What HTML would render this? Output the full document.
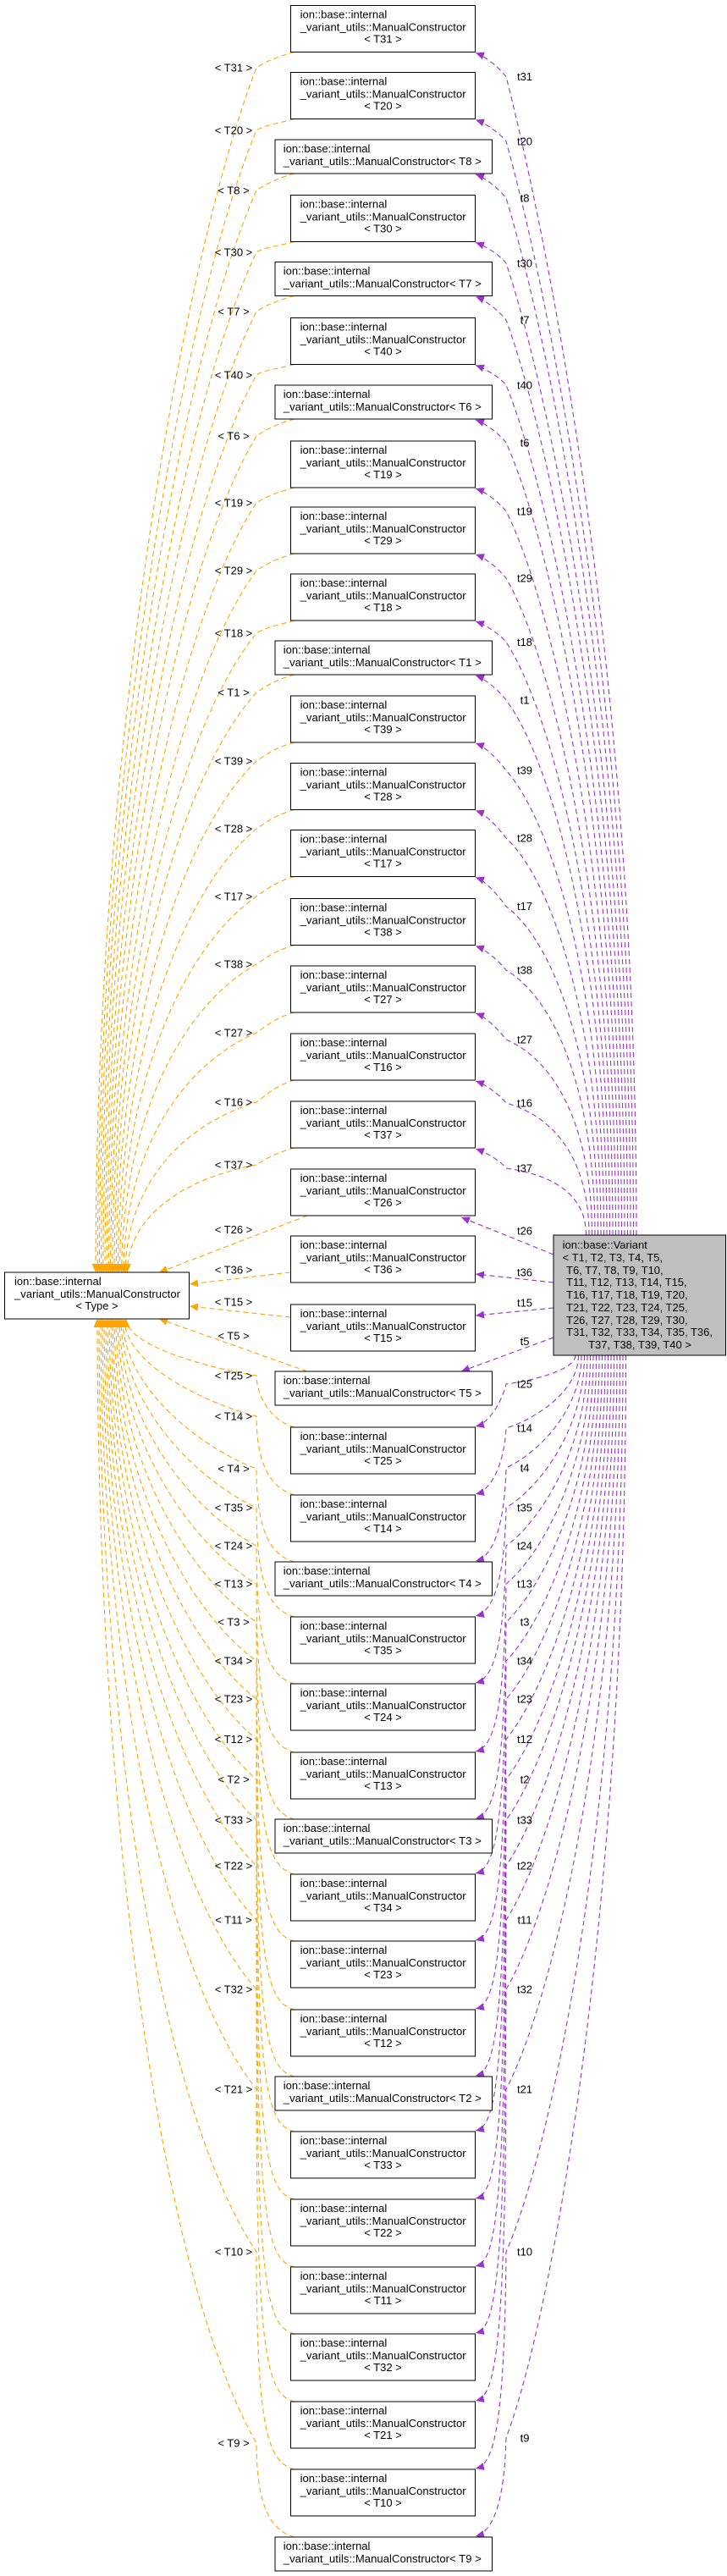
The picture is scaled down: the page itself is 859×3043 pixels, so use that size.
<!DOCTYPE html>
<html><head><meta charset="utf-8"><style>
html,body{margin:0;padding:0;background:#fff}
svg{display:block}
text{font-family:"Liberation Sans",Helvetica,sans-serif;font-size:13px;fill:#000}
.m{text-anchor:middle}
rect.b{fill:#fff;stroke:#000;stroke-width:1}
</style></head><body>
<svg id="s" width="859" height="3043" viewBox="0 0 859 3043" xmlns="http://www.w3.org/2000/svg">
<defs>
<marker id="ao" markerWidth="11" markerHeight="9" refX="10" refY="4.5" orient="auto" markerUnits="userSpaceOnUse"><path d="M0,0 L10,4.5 L0,9 z" fill="#ffa500"/></marker>
<marker id="ap" markerWidth="11" markerHeight="9" refX="10" refY="4.5" orient="auto" markerUnits="userSpaceOnUse"><path d="M0,0 L10,4.5 L0,9 z" fill="#9a32cd"/></marker>
</defs>
<g id="edges"></g>

<rect class="b" x="5.5" y="1503" width="218" height="55"/>
<text x="17" y="1518">ion::base::internal</text>
<text x="17" y="1533" textLength="196">_variant_utils::ManualConstructor</text>
<text x="114.5" y="1547" class="m">&lt; Type &gt;</text>

<rect x="654" y="1459" width="203.5" height="142" fill="#bfbfbf" stroke="#000"/>
<text x="664.6" y="1475">ion::base::Variant</text>
<text x="664.6" y="1490">&lt; T1, T2, T3, T4, T5,</text>
<text x="669" y="1505">T6, T7, T8, T9, T10,</text>
<text x="669" y="1519">T11, T12, T13, T14, T15,</text>
<text x="669" y="1534">T16, T17, T18, T19, T20,</text>
<text x="669" y="1549">T21, T22, T23, T24, T25,</text>
<text x="669" y="1564">T26, T27, T28, T29, T30,</text>
<text x="669" y="1578" textLength="173">T31, T32, T33, T34, T35, T36,</text>
<text x="756" y="1593" class="m">T37, T38, T39, T40 &gt;</text>

<g transform="translate(0,6.5)"><rect class="b" x="343.5" y="0" width="218" height="55"/><text x="354.6" y="15">ion::base::internal</text><text x="354.6" y="30" textLength="196">_variant_utils::ManualConstructor</text><text x="452.5" y="44" class="m">&lt; T31 &gt;</text></g>
<g transform="translate(0,85.5)"><rect class="b" x="343.5" y="0" width="218" height="55"/><text x="354.6" y="15">ion::base::internal</text><text x="354.6" y="30" textLength="196">_variant_utils::ManualConstructor</text><text x="452.5" y="44" class="m">&lt; T20 &gt;</text></g>
<g transform="translate(0,165)"><rect class="b" x="325" y="0" width="256.5" height="40"/><text x="334.8" y="15">ion::base::internal</text><text x="334.8" y="30" textLength="234">_variant_utils::ManualConstructor&lt; T8 &gt;</text></g>
<g transform="translate(0,230.5)"><rect class="b" x="343.5" y="0" width="218" height="55"/><text x="354.6" y="15">ion::base::internal</text><text x="354.6" y="30" textLength="196">_variant_utils::ManualConstructor</text><text x="452.5" y="44" class="m">&lt; T30 &gt;</text></g>
<g transform="translate(0,309.5)"><rect class="b" x="325" y="0" width="256.5" height="40"/><text x="334.8" y="15">ion::base::internal</text><text x="334.8" y="30" textLength="234">_variant_utils::ManualConstructor&lt; T7 &gt;</text></g>
<g transform="translate(0,375.5)"><rect class="b" x="343.5" y="0" width="218" height="55"/><text x="354.6" y="15">ion::base::internal</text><text x="354.6" y="30" textLength="196">_variant_utils::ManualConstructor</text><text x="452.5" y="44" class="m">&lt; T40 &gt;</text></g>
<g transform="translate(0,455)"><rect class="b" x="325" y="0" width="256.5" height="40"/><text x="334.8" y="15">ion::base::internal</text><text x="334.8" y="30" textLength="234">_variant_utils::ManualConstructor&lt; T6 &gt;</text></g>
<g transform="translate(0,521)"><rect class="b" x="343.5" y="0" width="218" height="55"/><text x="354.6" y="15">ion::base::internal</text><text x="354.6" y="30" textLength="196">_variant_utils::ManualConstructor</text><text x="452.5" y="44" class="m">&lt; T19 &gt;</text></g>
<g transform="translate(0,599)"><rect class="b" x="343.5" y="0" width="218" height="55"/><text x="354.6" y="15">ion::base::internal</text><text x="354.6" y="30" textLength="196">_variant_utils::ManualConstructor</text><text x="452.5" y="44" class="m">&lt; T29 &gt;</text></g>
<g transform="translate(0,678)"><rect class="b" x="343.5" y="0" width="218" height="55"/><text x="354.6" y="15">ion::base::internal</text><text x="354.6" y="30" textLength="196">_variant_utils::ManualConstructor</text><text x="452.5" y="44" class="m">&lt; T18 &gt;</text></g>
<g transform="translate(0,757)"><rect class="b" x="325" y="0" width="256.5" height="40"/><text x="334.8" y="15">ion::base::internal</text><text x="334.8" y="30" textLength="234">_variant_utils::ManualConstructor&lt; T1 &gt;</text></g>
<g transform="translate(0,822)"><rect class="b" x="343.5" y="0" width="218" height="55"/><text x="354.6" y="15">ion::base::internal</text><text x="354.6" y="30" textLength="196">_variant_utils::ManualConstructor</text><text x="452.5" y="44" class="m">&lt; T39 &gt;</text></g>
<g transform="translate(0,901.5)"><rect class="b" x="343.5" y="0" width="218" height="55"/><text x="354.6" y="15">ion::base::internal</text><text x="354.6" y="30" textLength="196">_variant_utils::ManualConstructor</text><text x="452.5" y="44" class="m">&lt; T28 &gt;</text></g>
<g transform="translate(0,980.5)"><rect class="b" x="343.5" y="0" width="218" height="55"/><text x="354.6" y="15">ion::base::internal</text><text x="354.6" y="30" textLength="196">_variant_utils::ManualConstructor</text><text x="452.5" y="44" class="m">&lt; T17 &gt;</text></g>
<g transform="translate(0,1061.5)"><rect class="b" x="343.5" y="0" width="218" height="55"/><text x="354.6" y="15">ion::base::internal</text><text x="354.6" y="30" textLength="196">_variant_utils::ManualConstructor</text><text x="452.5" y="44" class="m">&lt; T38 &gt;</text></g>
<g transform="translate(0,1141)"><rect class="b" x="343.5" y="0" width="218" height="55"/><text x="354.6" y="15">ion::base::internal</text><text x="354.6" y="30" textLength="196">_variant_utils::ManualConstructor</text><text x="452.5" y="44" class="m">&lt; T27 &gt;</text></g>
<g transform="translate(0,1221)"><rect class="b" x="343.5" y="0" width="218" height="55"/><text x="354.6" y="15">ion::base::internal</text><text x="354.6" y="30" textLength="196">_variant_utils::ManualConstructor</text><text x="452.5" y="44" class="m">&lt; T16 &gt;</text></g>
<g transform="translate(0,1301)"><rect class="b" x="343.5" y="0" width="218" height="55"/><text x="354.6" y="15">ion::base::internal</text><text x="354.6" y="30" textLength="196">_variant_utils::ManualConstructor</text><text x="452.5" y="44" class="m">&lt; T37 &gt;</text></g>
<g transform="translate(0,1381)"><rect class="b" x="343.5" y="0" width="218" height="55"/><text x="354.6" y="15">ion::base::internal</text><text x="354.6" y="30" textLength="196">_variant_utils::ManualConstructor</text><text x="452.5" y="44" class="m">&lt; T26 &gt;</text></g>
<g transform="translate(0,1460)"><rect class="b" x="343.5" y="0" width="218" height="55"/><text x="354.6" y="15">ion::base::internal</text><text x="354.6" y="30" textLength="196">_variant_utils::ManualConstructor</text><text x="452.5" y="44" class="m">&lt; T36 &gt;</text></g>
<g transform="translate(0,1541)"><rect class="b" x="343.5" y="0" width="218" height="55"/><text x="354.6" y="15">ion::base::internal</text><text x="354.6" y="30" textLength="196">_variant_utils::ManualConstructor</text><text x="452.5" y="44" class="m">&lt; T15 &gt;</text></g>
<g transform="translate(0,1620)"><rect class="b" x="325" y="0" width="256.5" height="40"/><text x="334.8" y="15">ion::base::internal</text><text x="334.8" y="30" textLength="234">_variant_utils::ManualConstructor&lt; T5 &gt;</text></g>
<g transform="translate(0,1686)"><rect class="b" x="343.5" y="0" width="218" height="55"/><text x="354.6" y="15">ion::base::internal</text><text x="354.6" y="30" textLength="196">_variant_utils::ManualConstructor</text><text x="452.5" y="44" class="m">&lt; T25 &gt;</text></g>
<g transform="translate(0,1766)"><rect class="b" x="343.5" y="0" width="218" height="55"/><text x="354.6" y="15">ion::base::internal</text><text x="354.6" y="30" textLength="196">_variant_utils::ManualConstructor</text><text x="452.5" y="44" class="m">&lt; T14 &gt;</text></g>
<g transform="translate(0,1845)"><rect class="b" x="325" y="0" width="256.5" height="40"/><text x="334.8" y="15">ion::base::internal</text><text x="334.8" y="30" textLength="234">_variant_utils::ManualConstructor&lt; T4 &gt;</text></g>
<g transform="translate(0,1910)"><rect class="b" x="343.5" y="0" width="218" height="55"/><text x="354.6" y="15">ion::base::internal</text><text x="354.6" y="30" textLength="196">_variant_utils::ManualConstructor</text><text x="452.5" y="44" class="m">&lt; T35 &gt;</text></g>
<g transform="translate(0,1989)"><rect class="b" x="343.5" y="0" width="218" height="55"/><text x="354.6" y="15">ion::base::internal</text><text x="354.6" y="30" textLength="196">_variant_utils::ManualConstructor</text><text x="452.5" y="44" class="m">&lt; T24 &gt;</text></g>
<g transform="translate(0,2070)"><rect class="b" x="343.5" y="0" width="218" height="55"/><text x="354.6" y="15">ion::base::internal</text><text x="354.6" y="30" textLength="196">_variant_utils::ManualConstructor</text><text x="452.5" y="44" class="m">&lt; T13 &gt;</text></g>
<g transform="translate(0,2149)"><rect class="b" x="325" y="0" width="256.5" height="40"/><text x="334.8" y="15">ion::base::internal</text><text x="334.8" y="30" textLength="234">_variant_utils::ManualConstructor&lt; T3 &gt;</text></g>
<g transform="translate(0,2214)"><rect class="b" x="343.5" y="0" width="218" height="55"/><text x="354.6" y="15">ion::base::internal</text><text x="354.6" y="30" textLength="196">_variant_utils::ManualConstructor</text><text x="452.5" y="44" class="m">&lt; T34 &gt;</text></g>
<g transform="translate(0,2293)"><rect class="b" x="343.5" y="0" width="218" height="55"/><text x="354.6" y="15">ion::base::internal</text><text x="354.6" y="30" textLength="196">_variant_utils::ManualConstructor</text><text x="452.5" y="44" class="m">&lt; T23 &gt;</text></g>
<g transform="translate(0,2374)"><rect class="b" x="343.5" y="0" width="218" height="55"/><text x="354.6" y="15">ion::base::internal</text><text x="354.6" y="30" textLength="196">_variant_utils::ManualConstructor</text><text x="452.5" y="44" class="m">&lt; T12 &gt;</text></g>
<g transform="translate(0,2453)"><rect class="b" x="325" y="0" width="256.5" height="40"/><text x="334.8" y="15">ion::base::internal</text><text x="334.8" y="30" textLength="234">_variant_utils::ManualConstructor&lt; T2 &gt;</text></g>
<g transform="translate(0,2518)"><rect class="b" x="343.5" y="0" width="218" height="55"/><text x="354.6" y="15">ion::base::internal</text><text x="354.6" y="30" textLength="196">_variant_utils::ManualConstructor</text><text x="452.5" y="44" class="m">&lt; T33 &gt;</text></g>
<g transform="translate(0,2598)"><rect class="b" x="343.5" y="0" width="218" height="55"/><text x="354.6" y="15">ion::base::internal</text><text x="354.6" y="30" textLength="196">_variant_utils::ManualConstructor</text><text x="452.5" y="44" class="m">&lt; T22 &gt;</text></g>
<g transform="translate(0,2678)"><rect class="b" x="343.5" y="0" width="218" height="55"/><text x="354.6" y="15">ion::base::internal</text><text x="354.6" y="30" textLength="196">_variant_utils::ManualConstructor</text><text x="452.5" y="44" class="m">&lt; T11 &gt;</text></g>
<g transform="translate(0,2757)"><rect class="b" x="343.5" y="0" width="218" height="55"/><text x="354.6" y="15">ion::base::internal</text><text x="354.6" y="30" textLength="196">_variant_utils::ManualConstructor</text><text x="452.5" y="44" class="m">&lt; T32 &gt;</text></g>
<g transform="translate(0,2837)"><rect class="b" x="343.5" y="0" width="218" height="55"/><text x="354.6" y="15">ion::base::internal</text><text x="354.6" y="30" textLength="196">_variant_utils::ManualConstructor</text><text x="452.5" y="44" class="m">&lt; T21 &gt;</text></g>
<g transform="translate(0,2917)"><rect class="b" x="343.5" y="0" width="218" height="55"/><text x="354.6" y="15">ion::base::internal</text><text x="354.6" y="30" textLength="196">_variant_utils::ManualConstructor</text><text x="452.5" y="44" class="m">&lt; T10 &gt;</text></g>
<g transform="translate(0,2997)"><rect class="b" x="325" y="0" width="256.5" height="40"/><text x="334.8" y="15">ion::base::internal</text><text x="334.8" y="30" textLength="234">_variant_utils::ManualConstructor&lt; T9 &gt;</text></g>

<text x="276" y="84.5" class="m">&lt; T31 &gt;</text>
<text x="276" y="158.5" class="m">&lt; T20 &gt;</text>
<text x="276" y="229.5" class="m">&lt; T8 &gt;</text>
<text x="276" y="302.5" class="m">&lt; T30 &gt;</text>
<text x="276" y="372.5" class="m">&lt; T7 &gt;</text>
<text x="276" y="447.5" class="m">&lt; T40 &gt;</text>
<text x="276" y="519.5" class="m">&lt; T6 &gt;</text>
<text x="276" y="598.5" class="m">&lt; T19 &gt;</text>
<text x="276" y="678.5" class="m">&lt; T29 &gt;</text>
<text x="276" y="752.5" class="m">&lt; T18 &gt;</text>
<text x="276" y="822.5" class="m">&lt; T1 &gt;</text>
<text x="276" y="903.5" class="m">&lt; T39 &gt;</text>
<text x="276" y="983.5" class="m">&lt; T28 &gt;</text>
<text x="276" y="1063.5" class="m">&lt; T17 &gt;</text>
<text x="276" y="1143.5" class="m">&lt; T38 &gt;</text>
<text x="276" y="1224.5" class="m">&lt; T27 &gt;</text>
<text x="276" y="1306.5" class="m">&lt; T16 &gt;</text>
<text x="276" y="1380.5" class="m">&lt; T37 &gt;</text>
<text x="276" y="1457" class="m">&lt; T26 &gt;</text>
<text x="276" y="1504.5" class="m">&lt; T36 &gt;</text>
<text x="276" y="1542.5" class="m">&lt; T15 &gt;</text>
<text x="276" y="1582.5" class="m">&lt; T5 &gt;</text>
<text x="276" y="1629.5" class="m">&lt; T25 &gt;</text>
<text x="276" y="1677.5" class="m">&lt; T14 &gt;</text>
<text x="276" y="1739.5" class="m">&lt; T4 &gt;</text>
<text x="276" y="1785.5" class="m">&lt; T35 &gt;</text>
<text x="276" y="1830.5" class="m">&lt; T24 &gt;</text>
<text x="276" y="1875.5" class="m">&lt; T13 &gt;</text>
<text x="276" y="1920.5" class="m">&lt; T3 &gt;</text>
<text x="276" y="1966.5" class="m">&lt; T34 &gt;</text>
<text x="276" y="2011.5" class="m">&lt; T23 &gt;</text>
<text x="276" y="2059" class="m">&lt; T12 &gt;</text>
<text x="276" y="2106.5" class="m">&lt; T2 &gt;</text>
<text x="276" y="2154.5" class="m">&lt; T33 &gt;</text>
<text x="276" y="2208.5" class="m">&lt; T22 &gt;</text>
<text x="276" y="2272.5" class="m">&lt; T11 &gt;</text>
<text x="276" y="2354.5" class="m">&lt; T32 &gt;</text>
<text x="276" y="2472.5" class="m">&lt; T21 &gt;</text>
<text x="276" y="2664.5" class="m">&lt; T10 &gt;</text>
<text x="276" y="2890.5" class="m">&lt; T9 &gt;</text>

<text x="620" y="95" class="m">t31</text>
<text x="620" y="171.5" class="m">t20</text>
<text x="620" y="238.5" class="m">t8</text>
<text x="620" y="315.5" class="m">t30</text>
<text x="620" y="382.5" class="m">t7</text>
<text x="620" y="459.5" class="m">t40</text>
<text x="620" y="527.5" class="m">t6</text>
<text x="620" y="608.5" class="m">t19</text>
<text x="620" y="687.5" class="m">t29</text>
<text x="620" y="763" class="m">t18</text>
<text x="620" y="831.5" class="m">t1</text>
<text x="620" y="914.5" class="m">t39</text>
<text x="620" y="994.5" class="m">t28</text>
<text x="620" y="1075" class="m">t17</text>
<text x="620" y="1150.5" class="m">t38</text>
<text x="620" y="1232.5" class="m">t27</text>
<text x="620" y="1307.5" class="m">t16</text>
<text x="620" y="1384.5" class="m">t37</text>
<text x="620" y="1458.5" class="m">t26</text>
<text x="620" y="1507.5" class="m">t36</text>
<text x="620" y="1543.5" class="m">t15</text>
<text x="620" y="1589" class="m">t5</text>
<text x="620" y="1639.5" class="m">t25</text>
<text x="620" y="1691.5" class="m">t14</text>
<text x="620" y="1738.5" class="m">t4</text>
<text x="620" y="1785.5" class="m">t35</text>
<text x="620" y="1830.5" class="m">t24</text>
<text x="620" y="1875.5" class="m">t13</text>
<text x="620" y="1920.5" class="m">t3</text>
<text x="620" y="1966.5" class="m">t34</text>
<text x="620" y="2011.5" class="m">t23</text>
<text x="620" y="2059" class="m">t12</text>
<text x="620" y="2106.5" class="m">t2</text>
<text x="620" y="2154.5" class="m">t33</text>
<text x="620" y="2208.5" class="m">t22</text>
<text x="620" y="2272.5" class="m">t11</text>
<text x="620" y="2354.5" class="m">t32</text>
<text x="620" y="2472.5" class="m">t21</text>
<text x="620" y="2664.5" class="m">t10</text>
<text x="620" y="2884.5" class="m">t9</text>
</svg>
<script>
(function(){
var B=[[6.5,3,80,90.6],[85.5,3,154,167],[165,2,225,234],[230.5,3,298,311],[309.5,2,368,378],[375.5,3,443,455],[455,2,515,523],[521,3,594,604],[599,3,674,683],[678,3,748,758.6],[757,2,818,827],[822,3,899,910],[901.5,3,979,990],[980.5,3,1059,1070.7],[1061.5,3,1139,1146],[1141,3,1220,1228],[1221,3,1302,1303],[1301,3,1376,1380],
[1381,3,1452.5,1454],[1460,3,1500,1503],[1541,3,1538,1539],[1620,2,1578,1584.6],
[1686,3,1625,1635],[1766,3,1673,1687],[1845,2,1735,1734],[1910,3,1781,1781],[1989,3,1826,1826],[2070,3,1871,1871],[2149,2,1916,1916],[2214,3,1962,1962],[2293,3,2007,2007],[2374,3,2054.5,2054.5],[2453,2,2102,2102],[2518,3,2150,2150],[2598,3,2204,2204],[2678,3,2268,2268],[2757,3,2350,2350],[2837,3,2468,2468],[2917,3,2660,2660],[2997,2,2886,2880]];
var g=document.getElementById('edges'),NS='http://www.w3.org/2000/svg';
function P(d,c,m){var p=document.createElementNS(NS,'path');p.setAttribute('d',d);p.setAttribute('fill','none');p.setAttribute('stroke',c);p.setAttribute('stroke-width','1.1');p.setAttribute('stroke-dasharray','6,4');p.setAttribute('marker-end','url(#'+m+')');g.appendChild(p);}
var O='#ffa500',V='#9a32cd';
for(var i=0;i<B.length;i++){
 var t=B[i][0],h=B[i][1]==3?55:40,ly=B[i][2],py=B[i][3],yb=t+h;
 if(i<18){
  var ex=113+i*2.2, sx=752-i*3.5, d=1503-ly, dp=1459-py;
  P('M348,'+yb+' C325,'+(yb+6)+' 312,'+(ly-6)+' 303,'+ly+' C'+(220-i*1)+','+(ly+0.15*d)+' '+ex+','+(ly+0.55*d)+' '+ex+',1503',O,'ao');
  P('M'+sx+',1459 C'+sx+','+(1459-0.5*dp)+' '+(640+i*1.5)+','+(py+0.12*dp)+' 598,'+py+' C592,'+(py-8)+' 576,'+(yb+6)+' 562,'+(yb+1),V,'ap');
 } else if(i<22){
  if(i==18){P('M363,'+yb+' L188,1503',O,'ao');P('M654,1482 L545,'+(yb+2),V,'ap');}
  if(i==19){P('M343,1503 L224,1517',O,'ao');P('M654,1515 L562,1505',V,'ap');}
  if(i==20){P('M343,1556 L224,1543',O,'ao');P('M654,1545 L562,1554',V,'ap');}
  if(i==21){P('M363,1620 L188,1558',O,'ao');P('M654,1580 L545,1620',V,'ap');}
 } else {
  var j=i-22, ex2=149-j*2, sx2=680+j*3.5, d2=ly-1558, dp2=py-1601;
  P('M348,'+t+' C318,'+(t-8)+' 303,'+(Math.max(ly+10,t-40))+' 303,'+ly+' C'+(240-j*3)+','+(ly-0.15*d2)+' '+ex2+','+(ly-0.55*d2)+' '+ex2+',1558',O,'ao');
  P('M'+sx2+',1601 C'+sx2+','+(1601+0.5*dp2)+' '+(630+j*1.5)+','+(py-0.12*dp2)+' 598,'+py+' C596,'+(Math.max(py+10,t-40))+' 582,'+(t-6)+' 562,'+(t-1),V,'ap');
 }
}
})();
</script>
</body></html>
